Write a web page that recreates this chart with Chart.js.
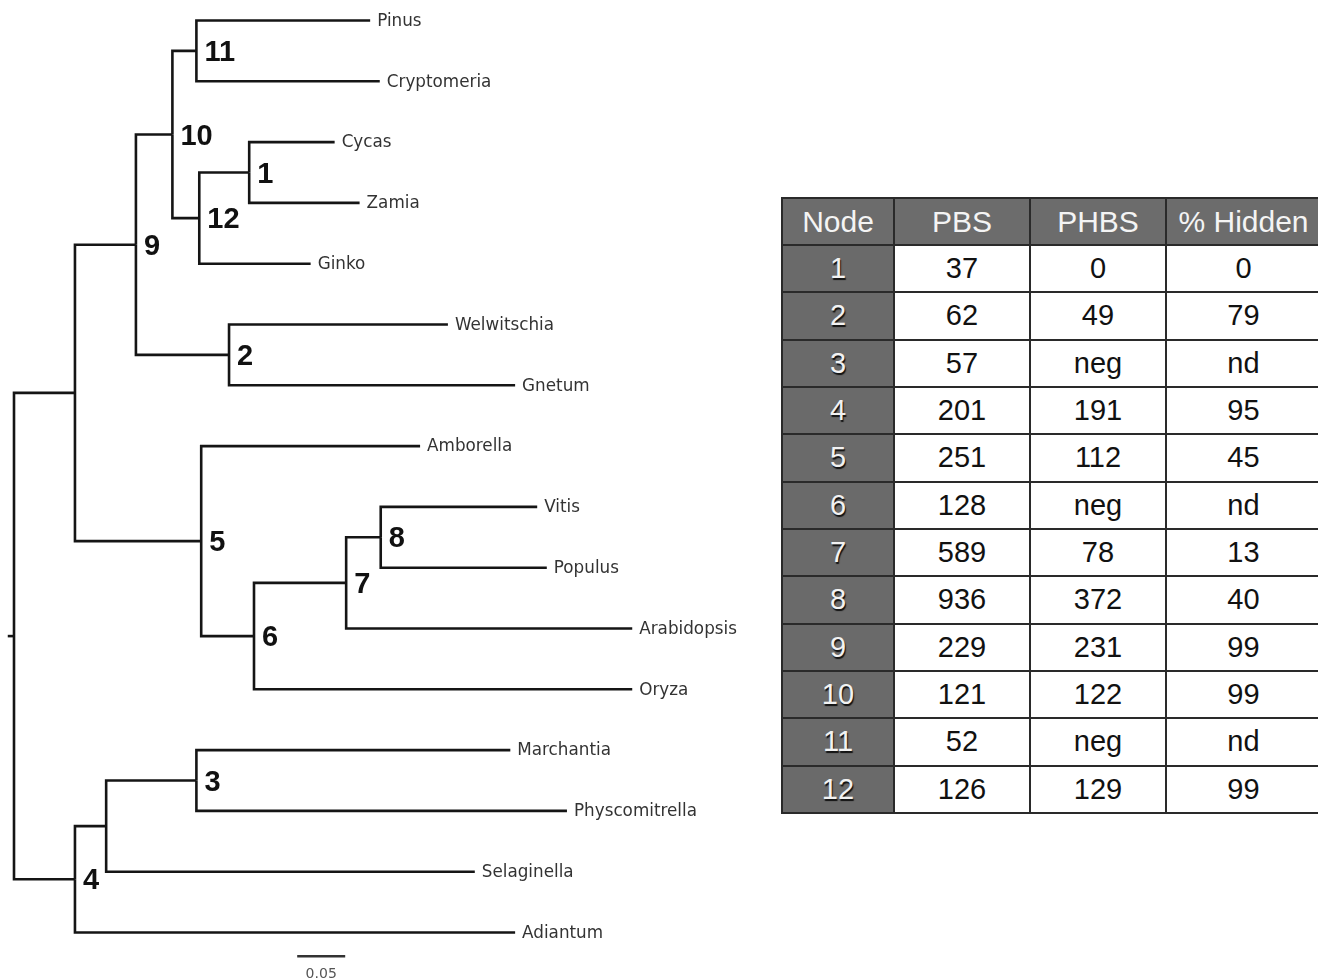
<!DOCTYPE html>
<html>
<head>
<meta charset="utf-8">
<script src="https://cdn.jsdelivr.net/npm/chart.js@4"></script>
<style>
  html, body { margin: 0; padding: 0; background: #fff; overflow: hidden; }
  #wrap { position: relative; width: 1318px; height: 980px; overflow: hidden; }
  #treeChart { position: absolute; left: 0; top: 0; }
  #nodeTable {
    position: absolute; left: 781px; top: 197px;
    border-collapse: collapse;
    font-family: "Liberation Sans", Arial, sans-serif;
    color: #111;
  }
  #nodeTable th, #nodeTable td {
    border: 2px solid #2a2a2a;
    text-align: center;
    padding: 0;
    height: 45.33px;
  }
  #nodeTable th {
    background: #6c6c6c;
    color: #f4f4f4;
    font-weight: normal;
    font-size: 30px;
    height: 45px;
    white-space: nowrap;
  }
  #nodeTable td { font-size: 29px; background: #fff; }
  #nodeTable td.node {
    background: #6a6a6a;
    color: #f2f2f2;
    text-shadow: 1px 2px 1px #111;
  }
</style>
</head>
<body>
<div id="wrap">
  <canvas id="treeChart" width="780" height="980"></canvas>
  <table id="nodeTable">
    <thead><tr id="headRow"></tr></thead>
    <tbody id="tableBody"></tbody>
  </table>
</div>
<script>
// leaves, top to bottom, with distance from root (substitutions per site)
const leafNames = ["Pinus", "Cryptomeria", "Cycas", "Zamia", "Ginko", "Welwitschia", "Gnetum",
  "Amborella", "Vitis", "Populus", "Arabidopsis", "Oryza", "Marchantia", "Physcomitrella",
  "Selaginella", "Adiantum"];
const leafDepths = [0.371, 0.381, 0.334, 0.360, 0.309, 0.452, 0.522, 0.423, 0.545, 0.555,
  0.644, 0.644, 0.517, 0.576, 0.480, 0.522];

// internal nodes: name, distance from root, children
const internalNames = ["root", "seed", "9", "10", "11", "12", "1", "2", "5", "6", "7", "8", "4", "land", "3"];
const internalDepths = [0, 0.0635, 0.127, 0.165, 0.190, 0.193, 0.245, 0.224, 0.195, 0.250,
  0.346, 0.382, 0.0635, 0.096, 0.190];
const internalChildren = [
  ["seed", "4"], ["9", "5"], ["10", "2"], ["11", "12"], ["Pinus", "Cryptomeria"],
  ["1", "Ginko"], ["Cycas", "Zamia"], ["Welwitschia", "Gnetum"], ["Amborella", "6"],
  ["7", "Oryza"], ["8", "Arabidopsis"], ["Vitis", "Populus"], ["land", "Adiantum"],
  ["3", "Selaginella"], ["Marchantia", "Physcomitrella"]
];
const rootStub = -0.0065;
const scaleBarLength = 0.05;
const scaleBarStart = 0.295;
const scaleBarRow = 15.39;

// table values
const tableHeaders = ["Node", "PBS", "PHBS", "% Hidden"];
const tableNodes = ["1", "2", "3", "4", "5", "6", "7", "8", "9", "10", "11", "12"];
const pbsValues = ["37", "62", "57", "201", "251", "128", "589", "936", "229", "121", "52", "126"];
const phbsValues = ["0", "49", "neg", "191", "112", "neg", "78", "372", "231", "122", "neg", "129"];
const hiddenValues = ["0", "79", "nd", "95", "45", "nd", "13", "40", "99", "99", "nd", "99"];

function buildTable() {
  const head = document.getElementById("headRow");
  const widths = [110, 134, 134, 153];
  tableHeaders.forEach((h, i) => {
    const th = document.createElement("th");
    th.innerText = h;
    th.style.width = widths[i] + "px";
    th.style.minWidth = widths[i] + "px";
    th.style.maxWidth = widths[i] + "px";
    head.appendChild(th);
  });
  const body = document.getElementById("tableBody");
  tableNodes.forEach((n, i) => {
    const tr = document.createElement("tr");
    [n, pbsValues[i], phbsValues[i], hiddenValues[i]].forEach((v, j) => {
      const td = document.createElement("td");
      td.innerText = v;
      if (j === 0) td.className = "node";
      tr.appendChild(td);
    });
    body.appendChild(tr);
  });
}

const nodes = {};
leafNames.forEach((n, i) => {
  nodes[n] = { depth: leafDepths[i], y: i, leaf: true };
});
internalNames.forEach((n, i) => {
  nodes[n] = { depth: internalDepths[i], children: internalChildren[i], leaf: false };
});

function placeNode(name) {
  const node = nodes[name];
  if (node.leaf) return node.y;
  const ys = node.children.map(placeNode);
  node.top = ys[0];
  node.bottom = ys[ys.length - 1];
  node.y = (node.top + node.bottom) / 2;
  return node.y;
}
placeNode("root");

// one elbow per edge: parent join -> parent at child row -> child
const lineStyle = {
  showLine: true, pointRadius: 0, borderColor: "#151515", borderWidth: 2.6,
  borderJoinStyle: "miter", borderCapStyle: "butt", fill: false
};
const datasets = [];
internalNames.forEach((name) => {
  const p = nodes[name];
  p.children.forEach((c) => {
    const child = nodes[c];
    datasets.push({
      ...lineStyle,
      data: [{ x: p.depth, y: p.y }, { x: p.depth, y: child.y }, { x: child.depth, y: child.y }]
    });
  });
});
datasets.push({ ...lineStyle, data: [{ x: rootStub, y: nodes.root.y }, { x: 0, y: nodes.root.y }] });
datasets.push({
  ...lineStyle, borderColor: "#333",
  data: [{ x: scaleBarStart, y: scaleBarRow }, { x: scaleBarStart + scaleBarLength, y: scaleBarRow }]
});

const treeLabels = {
  id: "treeLabels",
  afterDatasetsDraw(chart) {
    const ctx = chart.ctx;
    const xs = chart.scales.x;
    const ys = chart.scales.y;
    ctx.save();
    ctx.fillStyle = "#333";
    ctx.font = "16.8px 'DejaVu Sans'";
    ctx.textBaseline = "middle";
    ctx.textAlign = "left";
    leafNames.forEach((n) => {
      const node = nodes[n];
      ctx.fillText(n, xs.getPixelForValue(node.depth) + 7, ys.getPixelForValue(node.y) + 1);
    });

    ctx.fillStyle = "#111";
    ctx.font = "bold 29px 'Liberation Sans'";
    ctx.textBaseline = "alphabetic";
    internalNames.forEach((n) => {
      if (!/^\d+$/.test(n)) return;
      const node = nodes[n];
      ctx.fillText(n, xs.getPixelForValue(node.depth) + 8, ys.getPixelForValue(node.y) + 10);
    });

    ctx.fillStyle = "#555";
    ctx.font = "14px 'DejaVu Sans'";
    ctx.textAlign = "center";
    ctx.textBaseline = "middle";
    ctx.fillText(scaleBarLength.toFixed(2),
      xs.getPixelForValue(scaleBarStart + scaleBarLength / 2),
      ys.getPixelForValue(scaleBarRow) + 18);
    ctx.restore();
  }
};

window.addEventListener("DOMContentLoaded", () => {
  buildTable();
  new Chart(document.getElementById("treeChart"), {
    type: "scatter",
    data: { datasets },
    options: {
      responsive: false,
      animation: false,
      devicePixelRatio: 1,
      layout: { padding: 0 },
      scales: {
        x: { type: "linear", display: false, min: -14 / 960, max: 766 / 960 },
        y: { type: "linear", display: false, reverse: true, min: -20.5 / 60.8, max: 959.5 / 60.8 }
      },
      plugins: { legend: { display: false }, tooltip: { enabled: false } }
    },
    plugins: [treeLabels]
  });
});
</script>
</body>
</html>
